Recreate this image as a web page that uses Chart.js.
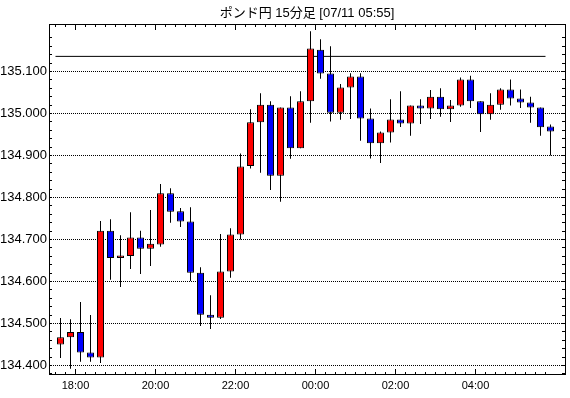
<!DOCTYPE html>
<html>
<head>
<meta charset="utf-8">
<script src="https://cdn.jsdelivr.net/npm/chart.js@4.4.1/dist/chart.umd.min.js"></script>
<style>
    html, body { margin: 0; padding: 0; background: #fff; }
</style>
</head>
<body>
<canvas id="chart" width="570" height="398"></canvas>
<script>
const titleText = 'ポンド円 15分足 [07/11 05:55]';

// 15-minute candles, 17:30 -> 05:45
const opens = [134.450, 134.467, 134.480, 134.431, 134.419, 134.721, 134.656, 134.661, 134.705, 134.678,
    134.688, 134.810, 134.767, 134.743, 134.621, 134.521, 134.514, 134.624, 134.712, 134.875,
    134.979, 135.021, 134.852, 135.014, 134.917, 135.029, 135.152, 135.095, 135.002, 135.062,
    135.088, 134.988, 134.929, 134.955, 134.986, 134.976, 135.019, 135.012, 135.040, 135.010,
    135.019, 135.081, 135.029, 134.998, 135.021, 135.057, 135.036, 135.026, 135.014, 134.969];
const highs = [134.513, 134.510, 134.551, 134.520, 134.744, 134.748, 134.710, 134.765, 134.721, 134.770,
    134.832, 134.822, 134.775, 134.777, 134.634, 134.567, 134.713, 134.727, 134.905, 135.010,
    135.048, 135.029, 135.014, 135.041, 135.053, 135.196, 135.177, 135.160, 135.070, 135.096,
    135.096, 135.012, 134.957, 135.034, 135.053, 135.019, 135.034, 135.056, 135.060, 135.032,
    135.086, 135.090, 135.029, 135.048, 135.060, 135.081, 135.057, 135.040, 135.014, 134.974];
const lows = [134.418, 134.392, 134.409, 134.409, 134.406, 134.604, 134.587, 134.630, 134.618, 134.637,
    134.683, 134.740, 134.730, 134.601, 134.494, 134.487, 134.511, 134.609, 134.700, 134.869,
    134.859, 134.818, 134.790, 134.892, 134.917, 134.978, 135.083, 134.981, 134.985, 134.987,
    134.935, 134.893, 134.882, 134.931, 134.968, 134.947, 134.975, 134.987, 134.992, 134.980,
    135.016, 135.013, 134.956, 134.985, 135.009, 135.019, 135.013, 134.978, 134.947, 134.900];
const closes = [134.467, 134.480, 134.431, 134.419, 134.721, 134.656, 134.662, 134.705, 134.678, 134.690,
    134.810, 134.766, 134.743, 134.621, 134.521, 134.514, 134.624, 134.712, 134.874, 134.979,
    135.021, 134.852, 135.014, 134.917, 135.029, 135.155, 135.095, 135.002, 135.062, 135.088,
    134.988, 134.929, 134.955, 134.986, 134.976, 135.019, 135.012, 135.040, 135.010, 135.019,
    135.081, 135.029, 134.998, 135.021, 135.057, 135.036, 135.026, 135.014, 134.967, 134.957];

const timeLabels = ['18:00', '20:00', '22:00', '00:00', '02:00', '04:00'];
const timeLabelSlots = [2, 10, 18, 26, 34, 42];
const priceLabels = [134.4, 134.5, 134.6, 134.7, 134.8, 134.9, 135.0, 135.1];
const refLevel = 135.136;

const upColour = '#ff0000';
const downColour = '#0000ff';

function isPriceLabel(v) {
    return priceLabels.some(p => Math.abs(p - v) < 0.0001);
}

// inner tick marks + frame round the plot
const frameTicks = {
    id: 'frameTicks',
    afterDraw(chart) {
        const {ctx, chartArea: a, scales: {x, y}} = chart;
        ctx.save();
        ctx.strokeStyle = '#000';
        ctx.lineWidth = 1;
        ctx.beginPath();
        x.ticks.forEach(t => {
            const px = Math.floor(x.getPixelForValue(t.value)) + 0.5;
            const len = timeLabelSlots.includes(t.value) ? 6 : 3;
            ctx.moveTo(px, a.bottom);
            ctx.lineTo(px, a.bottom - len);
            ctx.moveTo(px, a.top);
            ctx.lineTo(px, a.top + len);
        });
        y.ticks.forEach(t => {
            const py = Math.floor(y.getPixelForValue(t.value)) + 0.5;
            ctx.moveTo(a.left, py);
            ctx.lineTo(a.left + 3, py);
            ctx.moveTo(a.right, py);
            ctx.lineTo(a.right - 3, py);
        });
        ctx.stroke();
        ctx.strokeRect(a.left + 0.5, a.top + 0.5, a.right - a.left, a.bottom - a.top - 1);
        ctx.restore();
    }
};

new Chart(document.getElementById('chart'), {
    type: 'bar',
    data: {
        datasets: [
            {
                label: 'body',
                data: opens.map((o, i) => ({x: i + 0.5, y: [o, closes[i]]})),
                backgroundColor: opens.map((o, i) => closes[i] >= o ? upColour : downColour),
                borderColor: '#000',
                borderWidth: 1,
                borderSkipped: false,
                barThickness: 7,
                inflateAmount: 0,
                grouped: false,
                order: 0
            },
            {
                label: 'wick',
                data: lows.map((l, i) => ({x: i + 0.5, y: [l, highs[i]]})),
                backgroundColor: '#000',
                borderWidth: 0,
                barThickness: 1,
                inflateAmount: 0,
                grouped: false,
                order: 1
            },
            {
                type: 'line',
                label: 'level',
                data: [{x: 0, y: refLevel}, {x: 49, y: refLevel}],
                borderColor: '#000',
                borderWidth: 1,
                pointRadius: 0,
                order: 2
            }
        ]
    },
    options: {
        responsive: false,
        animation: false,
        layout: {padding: {top: 0, right: 5, bottom: 0, left: 0}},
        plugins: {
            legend: {display: false},
            tooltip: {enabled: false},
            title: {
                display: true,
                text: titleText,
                fullSize: false,
                color: '#000',
                font: {family: "'Liberation Sans', 'Noto Sans CJK JP', sans-serif", size: 13, weight: 'normal', lineHeight: 1.1},
                padding: {top: 6.3, bottom: 3.4}
            }
        },
        scales: {
            x: {
                type: 'linear',
                min: -0.65,
                max: 50.95,
                offset: false,
                afterFit: (scale) => { scale.height = 23; },
                afterBuildTicks: (scale) => {
                    scale.ticks = opens.map((o, i) => ({value: i}));
                },
                grid: {display: false, drawTicks: false},
                border: {display: false},
                ticks: {
                    autoSkip: false,
                    maxRotation: 0,
                    padding: 4,
                    color: '#000',
                    font: {family: "'Liberation Sans', sans-serif", size: 11},
                    callback: (v) => {
                        const k = timeLabelSlots.indexOf(v);
                        return k >= 0 ? timeLabels[k] : '';
                    }
                }
            },
            y: {
                type: 'linear',
                min: 134.3774,
                max: 135.2131,
                afterFit: (scale) => { scale.width = 49; },
                afterBuildTicks: (scale) => {
                    const ticks = [];
                    for (let k = 0; k <= 40; k++) {
                        ticks.push({value: Math.round((134.38 + k * 0.02) * 1000) / 1000});
                    }
                    scale.ticks = ticks;
                },
                grid: {
                    drawTicks: false,
                    color: (ctx) => ctx.tick && isPriceLabel(ctx.tick.value) ? '#000' : 'rgba(0,0,0,0)',
                    lineWidth: 1
                },
                border: {display: false, dash: [1, 1]},
                ticks: {
                    autoSkip: false,
                    padding: 2,
                    color: '#000',
                    font: {family: "'Liberation Sans', sans-serif", size: 13},
                    callback: (v) => isPriceLabel(v) ? v.toFixed(3) : ''
                }
            }
        }
    },
    plugins: [frameTicks]
});
</script>
</body>
</html>
